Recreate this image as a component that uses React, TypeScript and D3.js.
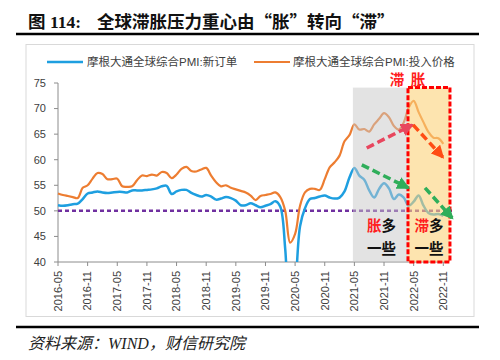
import * as d3 from "d3";

// monthly categories 2016-05 .. 2022-11
const months = d3
  .timeMonths(new Date(2016, 4, 1), new Date(2022, 11, 1))
  .map(d3.timeFormat("%Y-%m"));

const tickLabels = [
  "2016-05", "2016-11", "2017-05", "2017-11", "2018-05", "2018-11", "2019-05",
  "2019-11", "2020-05", "2020-11", "2021-05", "2021-11", "2022-05", "2022-11",
];

const yTicks = [40, 45, 50, 55, 60, 65, 70, 75];

// 摩根大通全球综合PMI:新订单
const newOrders = [
  51.1, 51.0, 51.1, 51.3, 51.4, 52.3, 53.4, 53.6, 53.8, 53.6,
  53.5, 53.6, 53.7, 53.7, 53.6, 54.0, 54.0, 54.0, 54.1, 54.2,
  54.4, 54.8, 54.9, 53.3, 53.8, 54.1, 54.1, 53.5, 53.1, 52.8,
  53.1, 52.8, 52.2, 52.4, 52.7, 52.5, 52.0, 51.1, 51.1, 51.5,
  51.1, 50.7, 51.0, 51.3, 51.9, 50.8, 42.5, 26.0, 34.0, 47.0,
  50.5, 52.3, 52.5, 52.8, 53.0, 52.6, 52.4, 52.6, 53.8, 56.5,
  58.4, 56.9, 56.1, 54.0, 52.6, 54.3, 55.4, 54.4, 52.3, 53.2,
  52.6, 51.0, 51.8, 53.0, 51.0, 49.6, 49.3, 49.4, 49.0,
];

// 摩根大通全球综合PMI:投入价格
const inputPrices = [
  53.4, 53.1, 52.9, 52.7, 52.5, 54.5, 55.0, 56.3, 57.4, 57.2,
  56.2, 56.2, 56.3, 54.8, 54.7, 54.8, 56.0, 56.9, 56.8, 57.1,
  56.9, 57.6, 57.4, 56.4, 57.1, 58.2, 58.6, 57.8, 57.7, 58.1,
  58.4, 56.9, 55.6, 54.8, 55.0, 54.5, 54.2, 53.9, 53.6, 53.0,
  52.1, 52.9, 53.1, 53.3, 53.6, 52.7, 50.0, 43.8, 45.5, 51.0,
  53.6, 54.3, 54.3, 54.1, 56.2, 58.5, 59.5, 60.8, 63.6, 64.8,
  66.9, 65.9, 66.0, 65.5, 66.9, 68.0, 69.1, 68.3, 66.6, 65.9,
  67.3, 70.2, 71.5, 69.3, 67.3, 65.4, 64.3, 64.2, 63.1,
];

const seriesNames = ["摩根大通全球综合PMI:新订单", "摩根大通全球综合PMI:投入价格"];

const BLUE = "#1e9fe0";
const ORANGE = "#ed7d31";
const SANS = "'Liberation Sans', Arial, 'Noto Sans CJK SC', sans-serif";
const SERIF = "'Liberation Serif', 'Noto Sans CJK SC', serif";
const CJK = "'Noto Sans CJK SC', sans-serif";

// annotation arrows, in (month index, value)
const arrows = [
  { from: [62.5, 62.3], to: [71.7, 66.8], color: "#e8465e" },
  { from: [71.9, 66.8], to: [77.9, 60.5], color: "#ff4c14" },
  { from: [61.5, 59.0], to: [70.9, 54.5], color: "#2fae5a" },
  { from: [74.3, 54.5], to: [79.8, 48.6], color: "#2fae5a" },
];

export default function App() {
  const x = d3.scaleLinear().domain([0, months.length - 1]).range([58, 443.3]);
  const y = d3.scaleLinear().domain([40, 75]).range([262, 83]);

  const line = d3
    .line<number>()
    .x((_, i) => x(i))
    .y((d) => y(d))
    .curve(d3.curveCatmullRom.alpha(0.5));

  const shadeL = x(59.7);
  const boxL = x(70.85);
  const boxR = x(79.35);
  const top = y(74.1);

  return (
    <svg
      width={500}
      height={360}
      style={{ position: "absolute", left: 0, top: 0, background: "#fff" }}
    >
      <defs>
        <clipPath id="plot">
          <rect x={50} y={y(75)} width={420} height={y(40) - y(75)} />
        </clipPath>
        {arrows.map((a, i) => (
          <marker
            key={i}
            id={`arr${i}`}
            markerUnits="userSpaceOnUse"
            markerWidth={13}
            markerHeight={13}
            refX={11}
            refY={6.5}
            orient="auto"
          >
            <path d="M0,0 L13,6.5 L0,13 Z" fill={a.color} />
          </marker>
        ))}
      </defs>

      {/* title */}
      <text y={28} fontSize={17.5} fontWeight="bold" fill="#111" fontFamily={CJK}>
        <tspan x={28}>图</tspan>
        <tspan x={50} fontFamily={SERIF}>114:</tspan>
        <tspan x={97}>全球滞胀压力重心由“胀”转向“滞”</tspan>
      </text>
      <line x1={16} x2={479} y1={34} y2={34} stroke="#000" strokeWidth={2.5} />

      {/* chart frame */}
      <rect x={26} y={44.5} width={448} height={272} fill="none" stroke="#d9d9d9" />

      {/* legend */}
      <line x1={47} x2={83} y1={62} y2={62} stroke={BLUE} strokeWidth={2.5} />
      <text x={87} y={66} fontSize={11.5} fill="#404040" fontFamily={SANS}>
        {seriesNames[0]}
      </text>
      <line x1={254} x2={290} y1={62} y2={62} stroke={ORANGE} strokeWidth={2} />
      <text x={293} y={66} fontSize={11.5} fill="#404040" fontFamily={SANS}>
        {seriesNames[1]}
      </text>

      {/* y axis */}
      <line x1={58} x2={58} y1={y(75)} y2={y(40)} stroke="#8c8c8c" />
      {yTicks.map((t) => (
        <g key={t}>
          <line x1={54} x2={58} y1={y(t)} y2={y(t)} stroke="#8c8c8c" />
          <text
            x={46}
            y={y(t)}
            dy="0.35em"
            textAnchor="end"
            fontSize={11}
            fill="#404040"
            fontFamily={SANS}
          >
            {t}
          </text>
        </g>
      ))}

      {/* x axis */}
      <line x1={58} x2={449} y1={y(40)} y2={y(40)} stroke="#8c8c8c" />
      {tickLabels.map((t) => {
        const xi = x(months.indexOf(t));
        return (
          <g key={t}>
            <line x1={xi} x2={xi} y1={y(40)} y2={y(40) + 4} stroke="#8c8c8c" />
            <text
              transform={`translate(${xi},${y(40) + 9}) rotate(-90)`}
              dy="0.35em"
              textAnchor="end"
              fontSize={11}
              fill="#404040"
              fontFamily={SANS}
            >
              {t}
            </text>
          </g>
        );
      })}

      {/* 50 line */}
      <line
        x1={58}
        x2={452}
        y1={y(50)}
        y2={y(50)}
        stroke="#7030a0"
        strokeWidth={2.5}
        strokeDasharray="4 3"
      />

      {/* series */}
      <g clipPath="url(#plot)" fill="none" strokeLinejoin="round">
        <path d={line(newOrders) ?? ""} stroke={BLUE} strokeWidth={2.5} />
        <path d={line(inputPrices) ?? ""} stroke={ORANGE} strokeWidth={2.2} />
      </g>

      {/* shaded periods */}
      <rect x={shadeL} y={top} width={boxL - shadeL} height={y(40) - top} fill="#c8c8c8" opacity={0.5} />
      <rect x={boxL} y={top} width={boxR - boxL} height={y(40) - top} fill="#fcd27a" opacity={0.6} />
      <rect
        x={boxL}
        y={top}
        width={boxR - boxL}
        height={y(40) - top}
        fill="none"
        stroke="#ff0000"
        strokeWidth={3}
        strokeDasharray="5 2"
      />

      {/* arrows */}
      {arrows.map((a, i) => (
        <line
          key={i}
          x1={x(a.from[0])}
          y1={y(a.from[1])}
          x2={x(a.to[0])}
          y2={y(a.to[1])}
          stroke={a.color}
          strokeWidth={3.5}
          strokeDasharray="8 4"
          markerEnd={`url(#arr${i})`}
        />
      ))}

      {/* labels */}
      <g fontFamily={CJK} fontSize={14.5} fontWeight="bold">
        <text x={boxL - 11} y={y(74.7)} textAnchor="middle" fill="#ff2020">
          滞
        </text>
        <text x={boxL + 10} y={y(74.7)} textAnchor="middle" fill="#ff2020">
          胀
        </text>
        <text x={(shadeL + boxL) / 2 + 1} y={y(46)} textAnchor="middle">
          <tspan fill="#ff2020">胀</tspan>
          <tspan fill="#111">多</tspan>
        </text>
        <text x={(shadeL + boxL) / 2 + 1} y={y(41.6)} textAnchor="middle" fill="#111">
          一些
        </text>
        <text x={(boxL + boxR) / 2} y={y(46)} textAnchor="middle">
          <tspan fill="#ff2020">滞</tspan>
          <tspan fill="#111">多</tspan>
        </text>
        <text x={(boxL + boxR) / 2} y={y(41.6)} textAnchor="middle" fill="#111">
          一些
        </text>
      </g>

      {/* footer */}
      <line x1={16} x2={479} y1={327} y2={327} stroke="#000" strokeWidth={2.5} />
      <text x={28} y={349} fontSize={16} fontStyle="italic" fill="#222" fontFamily={SERIF}>
        资料来源：WIND，财信研究院
      </text>
    </svg>
  );
}
